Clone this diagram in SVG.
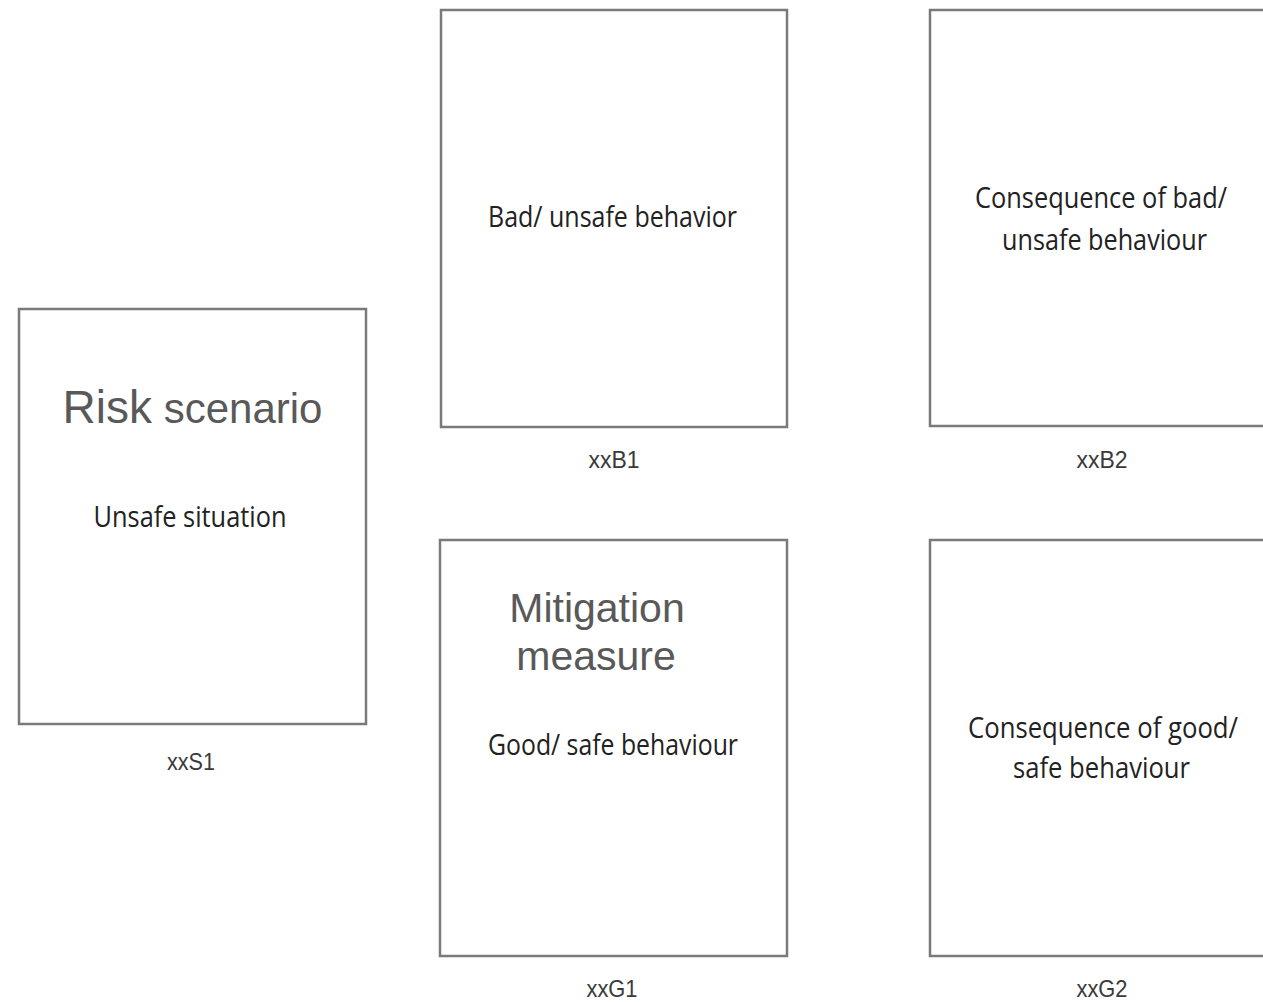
<svg xmlns="http://www.w3.org/2000/svg" width="1263" height="1002" viewBox="0 0 1263 1002">
  <style>
    .box { fill: #ffffff; stroke: #7a7a7a; stroke-width: 2.5; }
    .body { font-family: "Open Sans", "Liberation Sans", sans-serif; font-size: 29px; fill: #222222; text-anchor: middle; }
    .title { font-family: "Liberation Sans", Arial, sans-serif; fill: #595959; text-anchor: middle; }
    .lbl { font-family: "Liberation Sans", Arial, sans-serif; font-size: 24px; fill: #3a3a3a; text-anchor: middle; }
  </style>
  <rect x="0" y="0" width="1263" height="1002" fill="#ffffff"/>

  <g id="S1">
    <rect class="box" x="19" y="309" width="347" height="415"/>
    <text class="title" x="192.5" y="423"><tspan font-size="46">Risk</tspan><tspan font-size="42"> scenario</tspan></text>
    <text class="body" x="190" y="527" textLength="193" lengthAdjust="spacingAndGlyphs">Unsafe situation</text>
    <text class="lbl" x="191" y="770" textLength="48" lengthAdjust="spacingAndGlyphs">xxS1</text>
  </g>

  <g id="B1">
    <rect class="box" x="441" y="10" width="346" height="417"/>
    <text class="body" x="612.5" y="227" textLength="249" lengthAdjust="spacingAndGlyphs">Bad/ unsafe behavior</text>
    <text class="lbl" x="614" y="468" textLength="51" lengthAdjust="spacingAndGlyphs">xxB1</text>
  </g>

  <g id="B2">
    <rect class="box" x="930" y="10" width="345" height="416"/>
    <text class="body" x="1101" y="208" textLength="252" lengthAdjust="spacingAndGlyphs">Consequence of bad/</text>
    <text class="body" x="1104.5" y="250" textLength="205" lengthAdjust="spacingAndGlyphs">unsafe behaviour</text>
    <text class="lbl" x="1102" y="468" textLength="51" lengthAdjust="spacingAndGlyphs">xxB2</text>
  </g>

  <g id="G1">
    <rect class="box" x="440" y="540" width="347" height="416"/>
    <text class="title" x="597" y="622" font-size="41">Mitigation</text>
    <text class="title" x="596" y="670" font-size="41">measure</text>
    <text class="body" x="613" y="755" textLength="250" lengthAdjust="spacingAndGlyphs">Good/ safe behaviour</text>
    <text class="lbl" x="612" y="997" textLength="51" lengthAdjust="spacingAndGlyphs">xxG1</text>
  </g>

  <g id="G2">
    <rect class="box" x="930" y="540" width="345" height="416"/>
    <text class="body" x="1103" y="738" textLength="270" lengthAdjust="spacingAndGlyphs">Consequence of good/</text>
    <text class="body" x="1101.5" y="778" textLength="177" lengthAdjust="spacingAndGlyphs">safe behaviour</text>
    <text class="lbl" x="1102" y="997" textLength="51" lengthAdjust="spacingAndGlyphs">xxG2</text>
  </g>

  <g id="connectors"></g>
</svg>
